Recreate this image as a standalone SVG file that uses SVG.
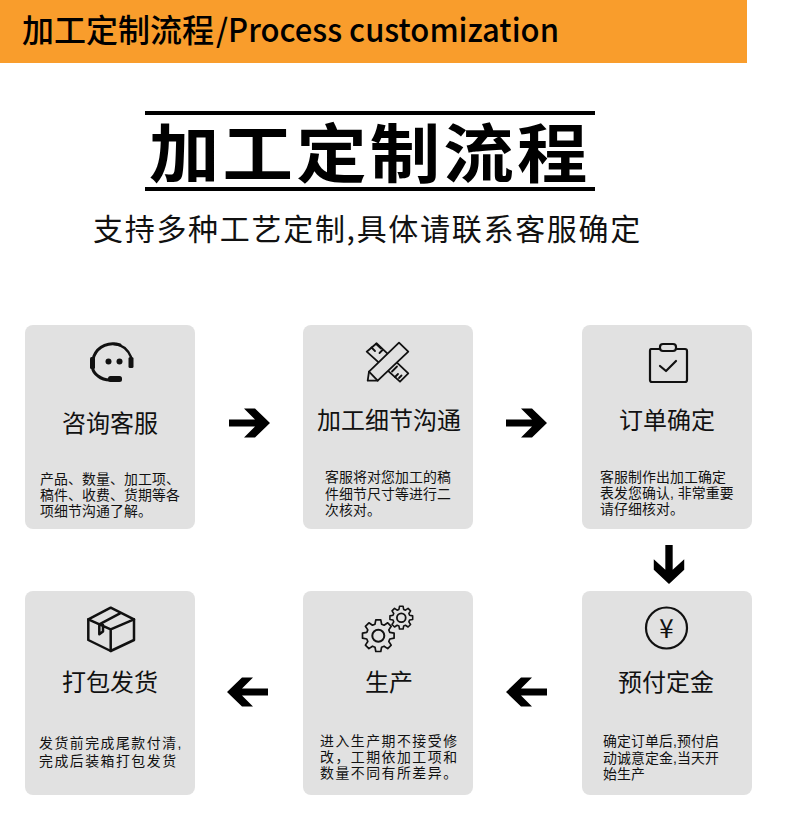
<svg xmlns="http://www.w3.org/2000/svg" width="790" height="832" viewBox="0 0 790 832">
<style>
text{font-family:"Noto Sans CJK SC","Liberation Sans",sans-serif;fill:#111}
.card{fill:#e1e1e1}
.h{font-size:24px;text-anchor:middle}
text.b{font-family:"Liberation Sans","Noto Sans CJK SC",sans-serif;font-size:13.900px;letter-spacing:.1px}
text.w{font-family:"Liberation Sans","Noto Sans CJK SC",sans-serif;font-size:13.900px;letter-spacing:1.500px}
.i{fill:none;stroke:#111;stroke-width:2.200;stroke-linejoin:round;stroke-linecap:round}
.t{fill:#e1e1e1;stroke:#111;stroke-width:1.800;stroke-linejoin:round;stroke-linecap:round}
.a{fill:#000}
</style>
<defs>
<path id="arr" d="M0-3.500H26L15-14.500H26L41 0 26 14.500H15L26 3.500H0Z"/>
<path id="gear" d="M-3.300-11.500L-2.500-15.800 2.500-15.800 3.300-11.500 5.800-10.500 9.400-12.900 12.900-9.400 10.500-5.800 11.500-3.300 15.800-2.500 15.800 2.500 11.500 3.300 10.500 5.800 12.900 9.400 9.400 12.900 5.800 10.500 3.300 11.500 2.500 15.800-2.500 15.800-3.300 11.500-5.800 10.500-9.400 12.900-12.900 9.400-10.500 5.800-11.500 3.300-15.800 2.500-15.800-2.500-11.500-3.300-10.500-5.800-12.900-9.400-9.400-12.900-5.800-10.500Z"/>
</defs>
<rect x="0" y="0" width="790" height="832" fill="#fff"/>
<g id="banner">
<rect x="0" y="0" width="747" height="63" fill="#f99d2c"/>
<text x="22" y="42" font-size="32" font-weight="500" style="fill:#000">加工定制流程</text>
<text x="216" y="42" font-size="32" font-weight="500" textLength="343" lengthAdjust="spacingAndGlyphs" style="fill:#000">/Process customization</text>
</g>
<g id="title">
<rect x="145" y="111" width="450" height="4" fill="#000"/>
<rect x="145" y="187" width="450" height="4" fill="#000"/>
<text transform="translate(149 177) scale(1.1 1)" font-size="64" font-weight="700" letter-spacing="2.900" style="fill:#000">加工定制流程</text>
<text x="93" y="240" font-size="30" letter-spacing="1.700">支持多种工艺定制,具体请联系客服确定</text>
</g>
<g id="node-consult">
<rect class="card" x="25" y="325" width="170" height="204" rx="8"/>
<path class="i" style="stroke-width:3" d="M120 345A20 19 0 0 0 94 356Q89 370 98 376 103 380 110 380"/>
<path class="i" style="stroke-width:2.400" d="M114 344Q126 345 131 357"/>
<rect x="90" y="357" width="5" height="12" rx="1.500" fill="#111"/>
<rect x="128.500" y="357" width="5" height="11" rx="1.500" fill="#111"/>
<rect x="108" y="376" width="14" height="6" rx="2.500" fill="#111"/>
<circle cx="108.500" cy="361.500" r="3" fill="#111"/><circle cx="119.500" cy="361.500" r="3" fill="#111"/>
<text class="h" x="110" y="432">咨询客服</text>
<text class="b"><tspan x="40" y="484">产品、数量、加工项、</tspan><tspan x="40" y="500">稿件、收费、货期等各</tspan><tspan x="40" y="516">项细节沟通了解。</tspan></text>
</g>
<g id="node-detail">
<rect class="card" x="303" y="325" width="170" height="204" rx="8"/>
<path class="t" d="M376.700 343.300L366.700 351.700 400 381.700 408.300 373.300Z"/>
<path class="i" style="stroke-width:1.800" d="M371.500 347.500L375 351M376 343.800L381 348.500M379.500 353L382.500 350M395 377L398 374M399 378L401.500 375.500M392 371.500L397 366.500"/>
<path class="t" d="M399 342.700L408.300 351.700 377.700 380.700 367.700 380.700 369 371.700Z"/>
<path class="i" style="stroke-width:1.800" d="M369 371.700L377.700 380.700"/>
<text class="h" x="389" y="429">加工细节沟通</text>
<text class="b"><tspan x="325" y="482">客服将对您加工的稿</tspan><tspan x="325" y="499">件细节尺寸等进行二</tspan><tspan x="325" y="515">次核对。</tspan></text>
</g>
<g id="node-confirm">
<rect class="card" x="582" y="325" width="170" height="204" rx="8"/>
<path class="i" d="M659 349H651Q650 349 650 351V380Q650 382 652 382H685Q687 382 687 380V351Q687 349 685 349H677"/>
<rect class="i" x="660" y="344" width="16" height="7" rx="3"/>
<path class="i" d="M660 366L666 371 676 361"/>
<text class="h" x="667" y="429">订单确定</text>
<text class="b"><tspan x="600" y="482">客服制作出加工确定</tspan><tspan x="600" y="498">表发您确认, 非常重要</tspan><tspan x="600" y="514">请仔细核对。</tspan></text>
</g>
<g id="node-deposit">
<rect class="card" x="582" y="591" width="170" height="204" rx="8"/>
<circle class="i" cx="666.500" cy="628" r="20.500"/>
<text x="666.500" y="638" font-size="26" text-anchor="middle">¥</text>
<text class="h" x="666" y="691">预付定金</text>
<text class="b"><tspan x="603" y="746">确定订单后,预付启</tspan><tspan x="603" y="763">动诚意定金,当天开</tspan><tspan x="603" y="779">始生产</tspan></text>
</g>
<g id="node-production">
<rect class="card" x="303" y="591" width="170" height="204" rx="8"/>
<use href="#gear" transform="translate(378.300 635.700)" fill="none" stroke="#111" stroke-width="1.700" stroke-linejoin="round"/>
<circle class="i" style="stroke-width:2" cx="378.300" cy="635.700" r="6"/>
<use href="#gear" transform="translate(401.300 617.700) scale(.72)" fill="none" stroke="#111" stroke-width="2.200" stroke-linejoin="round"/>
<circle class="i" style="stroke-width:1.800" cx="401.300" cy="617.700" r="4.400"/>
<text class="h" x="389" y="691">生产</text>
<text class="w"><tspan x="320" y="746">进入生产期不接受修</tspan><tspan x="320" y="762">改，工期依加工项和</tspan><tspan x="320" y="778">数量不同有所差异。</tspan></text>
</g>
<g id="node-ship">
<rect class="card" x="25" y="591" width="170" height="204" rx="8"/>
<path class="i" style="stroke-width:2.500" d="M110.700 607.700L134 619.300V640L110.700 651 88.300 640V619.300Z"/>
<path class="i" style="stroke-width:2.500" d="M88.300 619.300L110.700 629.300 134 619.300M110.700 629.300V651M120 613.300L99.300 624.300V634.300L103 631.500 103 625"/>
<text class="h" x="110" y="691">打包发货</text>
<text class="w"><tspan x="39" y="748">发货前完成尾款付清,</tspan><tspan x="39" y="766">完成后装箱打包发货</tspan></text>
</g>
<g id="connectors">
<use class="a" href="#arr" transform="translate(229 423)"/>
<use class="a" href="#arr" transform="translate(506 423)"/>
<use class="a" href="#arr" transform="translate(669 545) rotate(90) scale(.95 1.05)"/>
<use class="a" href="#arr" transform="translate(268 692) scale(-1 1)"/>
<use class="a" href="#arr" transform="translate(547 692) scale(-1 1)"/>
</g>
</svg>
